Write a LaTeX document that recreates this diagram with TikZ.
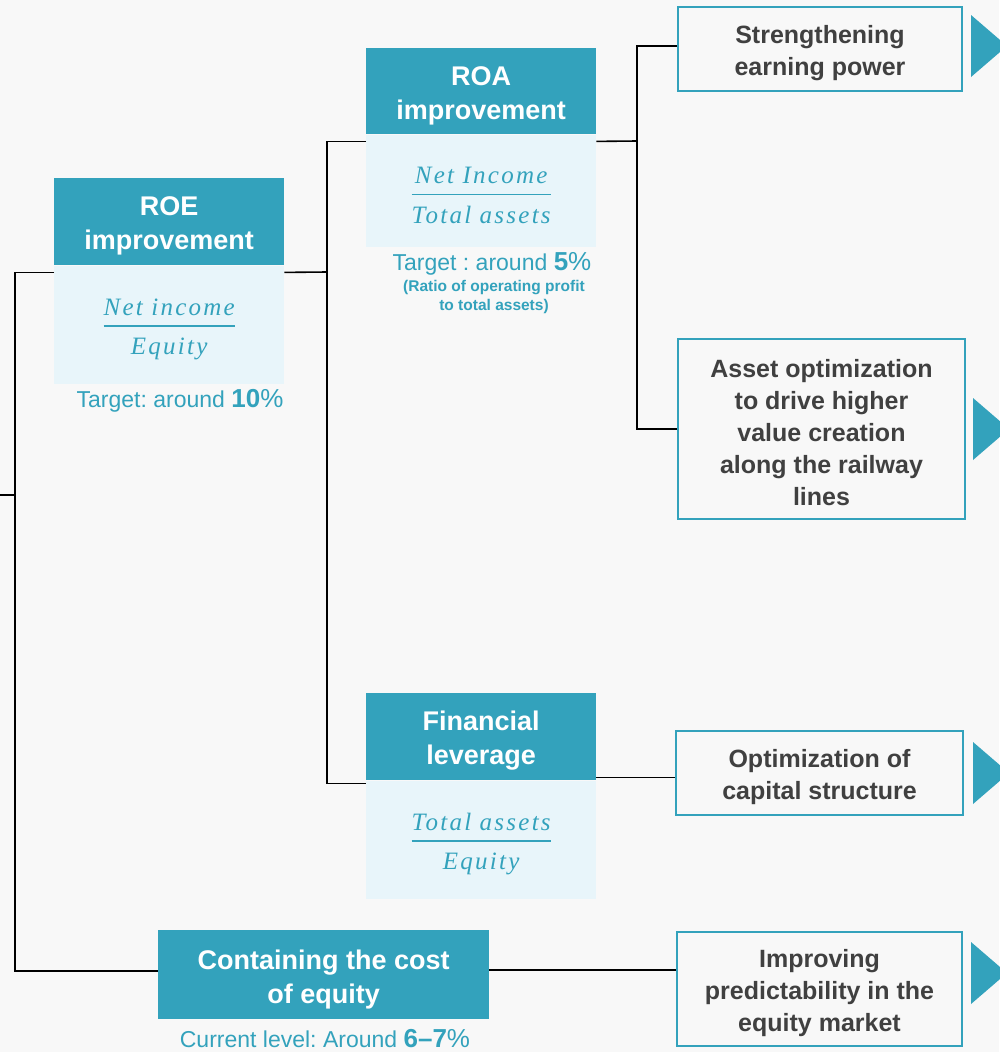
\documentclass[tikz,border=0pt]{standalone}
\usepackage{fontspec}
\usepackage{amsmath}
\setmainfont{Liberation Sans}
\newfontfamily\eqfont[LetterSpace=9]{Liberation Serif}
\definecolor{roeteal}{HTML}{33A2BC}
\definecolor{paleblue}{HTML}{E8F5FA}
\definecolor{pagebg}{HTML}{F8F8F8}
\definecolor{darktext}{HTML}{404040}
\newcommand{\ratio}[2]{$\genfrac{}{}{1.6pt}{0}{\hbox{\eqfont\itshape\rule[-5pt]{0pt}{31pt}#1}}{\hbox{\eqfont\itshape\rule{0pt}{23pt}#2}}$}
\newcommand{\topgap}[1]{\rule{0pt}{#1}}
\frenchspacing

\begin{document}
\begin{tikzpicture}[x=1pt,y=-1pt,
  head/.style={fill=roeteal,text=white,font=\fontsize{27}{34}\selectfont\bfseries,align=center,inner sep=0pt,anchor=north west},
  body/.style={fill=paleblue,text=roeteal,font=\fontsize{25}{30}\selectfont,inner sep=0pt,anchor=north},
  note/.style={text=roeteal,font=\fontsize{23}{27}\selectfont,inner sep=0pt},
  action/.style={draw=roeteal,line width=2pt,fill=pagebg,text=darktext,font=\fontsize{25}{32}\selectfont\bfseries,align=center,inner sep=0pt},
  link/.style={line width=1.6pt,black},
  pointer/.style={fill=roeteal}]
\useasboundingbox (0,0) rectangle (999,1052);
\fill[pagebg] (0,0) rectangle (999,1052);

% ratio boxes
\node[head,minimum width=230pt,minimum height=87pt] (roeh) at (54,178) {\topgap{28pt}ROE\\improvement};
\node[body,minimum width=230pt,minimum height=118pt] (roeb) at (roeh.south) {\ratio{Net income}{Equity}};
\node[note,anchor=base] (roet) at (180,407) {Target: around {\fontsize{26}{30}\selectfont\textbf{10}\%}};

\node[head,minimum width=230pt,minimum height=86pt] (roah) at (366,48) {\topgap{28pt}ROA\\improvement};
\node[body,minimum width=230pt,minimum height=112pt] (roab) at (roah.south) {\ratio{Net Income}{Total assets}};
\node[note,anchor=base] (roat) at (492,270) {Target : around {\fontsize{26}{30}\selectfont\textbf{5}\%}};
\node[note,anchor=north,align=center,font=\fontsize{15.5}{19}\selectfont\bfseries] (roar) at (494,280) {(Ratio of operating profit\\to total assets)};

\node[head,minimum width=230pt,minimum height=87pt] (levh) at (366,693) {\topgap{28pt}Financial\\leverage};
\node[body,minimum width=230pt,minimum height=118pt] (levb) at (levh.south) {\ratio{Total assets}{Equity}};

\node[head,minimum width=331pt,minimum height=89pt] (cost) at (158,930) {\topgap{29pt}Containing the cost\\of equity};
\node[note,anchor=base] (costt) at (325,1047) {Current level: Around {\fontsize{26}{30}\selectfont\textbf{6--7}\%}};

% measures
\node[action,minimum width=284pt,minimum height=84pt] (earn) at (820,49) {\topgap{27pt}Strengthening\\earning power};
\node[action,minimum width=287pt,minimum height=180pt] (asset) at (821.5,429) {\topgap{25pt}Asset optimization\\to drive higher\\value creation\\along the railway\\lines};
\node[action,minimum width=287pt,minimum height=84pt] (capital) at (819.5,773) {\topgap{27pt}Optimization of\\capital structure};
\node[action,minimum width=285pt,minimum height=114pt] (predict) at (819.5,989) {\topgap{27pt}Improving\\predictability in the\\equity market};

% tree lines
\coordinate (root) at (0,495);
\coordinate (j0) at (15,495);
\coordinate (j1) at (327,272);
\coordinate (j2) at (637,141);
\draw[link] (root) -- (j0);
\draw[link] ([yshift=-7pt]roeh.south west) -| (j0) |- ([yshift=4pt]cost.west);
\draw[link] ([yshift=-7pt]roeh.south east) -- (j1);
\draw[link] ([yshift=-7pt]roah.south west) -| (j1) |- ([yshift=-3pt]levh.south west);
\draw[link] ([yshift=-7pt]roah.south east) -- (j2);
\draw[link] ([yshift=3pt]earn.west) -| (j2) |- (asset.west);
\draw[link] ([yshift=3pt]levh.south east) -- ([yshift=3pt]levh.south east -| capital.west);
\draw[link] ([yshift=5pt]cost.east) -- ([yshift=5pt]cost.east -| predict.west);

% arrows at the right edge
\fill[pointer] ([xshift=8pt,yshift=3pt]earn.east) ++(0,-31) -- ++(36,31) -- ++(-36,31) -- cycle;
\fill[pointer] ([xshift=7pt]asset.east) ++(0,-31) -- ++(36,31) -- ++(-36,31) -- cycle;
\fill[pointer] ([xshift=9pt]capital.east) ++(0,-31) -- ++(36,31) -- ++(-36,31) -- cycle;
\fill[pointer] ([xshift=8pt,yshift=16pt]predict.east) ++(0,-31) -- ++(36,31) -- ++(-36,31) -- cycle;
\end{tikzpicture}
\end{document}
